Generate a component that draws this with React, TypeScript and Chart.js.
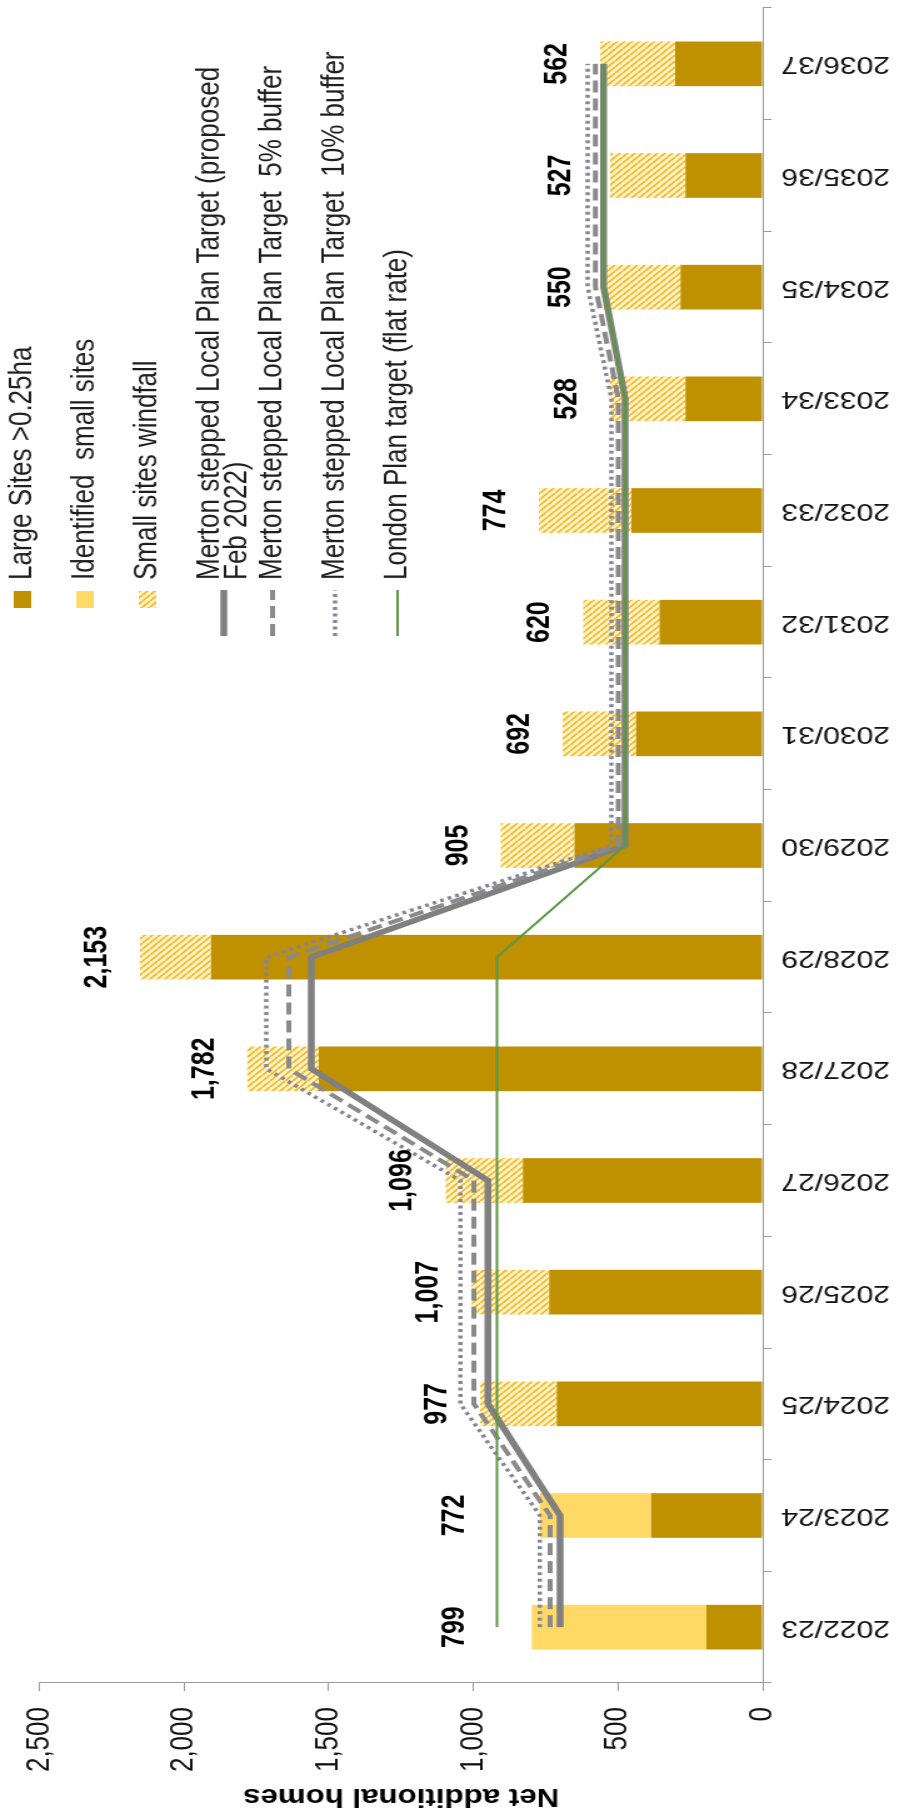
import React, { useEffect, useRef } from 'react';
import { Chart, registerables } from 'chart.js';

Chart.register(...registerables);

// ---------- data ----------
const categories = [
  '2022/23', '2023/24', '2024/25', '2025/26', '2026/27', '2027/28', '2028/29', '2029/30',
  '2030/31', '2031/32', '2032/33', '2033/34', '2034/35', '2035/36', '2036/37',
];
const largeSites = [194, 386, 712, 738, 829, 1534, 1907, 650, 438, 357, 454, 267, 284, 267, 303];
const identifiedSmallSites = [605, 386, 0, 0, 0, 0, 0, 0, 0, 0, 0, 0, 0, 0, 0];
const smallSitesWindfall = [0, 0, 265, 269, 267, 248, 246, 255, 254, 263, 320, 261, 266, 260, 259];
const mertonStepped = [700, 700, 950, 950, 950, 1560, 1560, 475, 475, 475, 475, 475, 550, 550, 550];
const mertonStepped5 = [735, 735, 998, 998, 998, 1638, 1638, 499, 499, 499, 499, 499, 578, 578, 578];
const mertonStepped10 = [770, 770, 1045, 1045, 1045, 1716, 1716, 523, 523, 523, 523, 523, 605, 605, 605];
const londonPlan = [918, 918, 918, 918, 918, 918, 918, 475, 475, 475, 475, 475, 550, 550, 550];
const valueAxisMin = 0;
const valueAxisMax = 2500;
const valueAxisStep = 500;
const axisTitle = 'Net additional homes';
const legendLabels: string[][] = [
  ['Large Sites >0.25ha'],
  ['Identified  small sites'],
  ['Small sites windfall'],
  ['Merton stepped Local Plan Target (proposed', 'Feb 2022)'],
  ['Merton stepped Local Plan Target  5% buffer'],
  ['Merton stepped Local Plan Target  10% buffer'],
  ['London Plan target (flat rate)'],
];

// ---------- look ----------
const OUT_W = 904;
const OUT_H = 1813;
const W = 1813; // canvas width (becomes page height after rotation)
const H = 723; // canvas height (stretched to 904 after rotation)
const FONT = '"Liberation Sans", Arial, Helvetica, sans-serif';
const GOLD = '#BF9000';
const LIGHT = '#FFD966';
const GREY = '#808080';
const GREY_DASH = '#8a8a8a';
const GREY_DOT = '#85859a';
const GREEN = '#5d9645';
const AXIS = '#9a9a9a';

function makeHatch(): CanvasPattern | string {
  const s = 6;
  const c = document.createElement('canvas');
  c.width = s;
  c.height = s;
  const g = c.getContext('2d');
  if (!g) return LIGHT;
  g.fillStyle = '#fff4d2';
  g.fillRect(0, 0, s, s);
  g.strokeStyle = '#f5b81c';
  g.lineWidth = 1.6;
  g.beginPath();
  for (const o of [-s, 0, s]) {
    g.moveTo(o, 0);
    g.lineTo(o + s, s);
  }
  g.stroke();
  const p = g.createPattern(c, 'repeat');
  return p || LIGHT;
}

export default function App() {
  const ref = useRef<HTMLCanvasElement>(null);

  useEffect(() => {
    const canvas = ref.current;
    if (!canvas) return;
    const hatch = makeHatch();

    const totals = categories.map((_, i) => largeSites[i] + identifiedSmallSites[i] + smallSitesWindfall[i]);

    const labelPlugin = {
      id: 'totalLabels',
      afterDatasetsDraw(chart: any) {
        const ctx = chart.ctx as CanvasRenderingContext2D;
        const xs = chart.scales.x;
        const ys = chart.scales.y;
        ctx.save();
        ctx.font = `bold 25px ${FONT}`;
        ctx.fillStyle = '#000';
        ctx.textAlign = 'center';
        ctx.textBaseline = 'middle';
        totals.forEach((t, i) => {
          const anchor = Math.max(t, londonPlan[i]);
          const x = xs.getPixelForValue(i);
          const y = ys.getPixelForValue(anchor) - 34;
          ctx.fillText(t.toLocaleString('en-US'), x, y);
        });
        ctx.restore();
      },
    };

    const legendPlugin = {
      id: 'overlayLegend',
      afterDraw(chart: any) {
        const ctx = chart.ctx as CanvasRenderingContext2D;
        const textX = 1233;
        const firstRow = 18;
        const pitch = 50;
        const lineGap = 22;
        ctx.save();
        ctx.font = `26px ${FONT}`;
        ctx.textAlign = 'left';
        ctx.textBaseline = 'middle';
        legendLabels.forEach((lines, i) => {
          const y0 = firstRow + i * pitch;
          const my = y0 + ((lines.length - 1) * lineGap) / 2;
          if (i < 3) {
            ctx.fillStyle = i === 0 ? GOLD : i === 1 ? LIGHT : (hatch as any);
            ctx.fillRect(textX - 28, my - 7, 17, 14);
          } else {
            ctx.beginPath();
            ctx.lineCap = 'butt';
            if (i === 3) {
              ctx.strokeStyle = GREY;
              ctx.lineWidth = 5.5;
              ctx.setLineDash([]);
            } else if (i === 4) {
              ctx.strokeStyle = GREY_DASH;
              ctx.lineWidth = 4;
              ctx.setLineDash([12, 6]);
            } else if (i === 5) {
              ctx.strokeStyle = GREY_DOT;
              ctx.lineWidth = 3.5;
              ctx.setLineDash([3, 3.5]);
            } else {
              ctx.strokeStyle = GREEN;
              ctx.lineWidth = 2;
              ctx.setLineDash([]);
            }
            ctx.moveTo(textX - 56, my);
            ctx.lineTo(textX - 10, my);
            ctx.stroke();
            ctx.setLineDash([]);
          }
          ctx.fillStyle = '#1f1f1f';
          lines.forEach((ln, j) => ctx.fillText(ln, textX, y0 + j * lineGap));
        });
        ctx.restore();
      },
    };

    const lineBase = { type: 'line', pointRadius: 0, tension: 0, fill: false };

    const chart = new Chart(canvas, {
      type: 'bar',
      data: {
        labels: categories,
        datasets: [
          {
            ...lineBase,
            label: legendLabels[6][0],
            data: londonPlan,
            borderColor: GREEN,
            backgroundColor: GREEN,
            borderWidth: 2,
            stack: 'l4',
            order: 0,
          } as any,
          {
            ...lineBase,
            label: legendLabels[5][0],
            data: mertonStepped10,
            borderColor: GREY_DOT,
            backgroundColor: GREY_DOT,
            borderWidth: 3.5,
            borderDash: [3, 3.5],
            stack: 'l3',
            order: 1,
          } as any,
          {
            ...lineBase,
            label: legendLabels[4][0],
            data: mertonStepped5,
            borderColor: GREY_DASH,
            backgroundColor: GREY_DASH,
            borderWidth: 4,
            borderDash: [12, 6],
            stack: 'l2',
            order: 2,
          } as any,
          {
            ...lineBase,
            label: legendLabels[3].join(' '),
            data: mertonStepped,
            borderColor: GREY,
            backgroundColor: GREY,
            borderWidth: 5.5,
            stack: 'l1',
            order: 3,
          } as any,
          {
            type: 'bar',
            label: legendLabels[0][0],
            data: largeSites,
            backgroundColor: GOLD,
            stack: 'bars',
            order: 10,
            barPercentage: 0.4,
            categoryPercentage: 1,
          } as any,
          {
            type: 'bar',
            label: legendLabels[1][0],
            data: identifiedSmallSites,
            backgroundColor: LIGHT,
            stack: 'bars',
            order: 10,
            barPercentage: 0.4,
            categoryPercentage: 1,
          } as any,
          {
            type: 'bar',
            label: legendLabels[2][0],
            data: smallSitesWindfall,
            backgroundColor: hatch as any,
            stack: 'bars',
            order: 10,
            barPercentage: 0.4,
            categoryPercentage: 1,
          } as any,
        ],
      },
      options: {
        responsive: false,
        animation: false,
        devicePixelRatio: 1,
        layout: { padding: { top: 22, right: 8, left: 0, bottom: 0 } },
        plugins: {
          legend: { display: false },
          tooltip: { enabled: false },
          title: { display: false },
        },
        scales: {
          x: {
            stacked: true,
            grid: {
              display: true,
              drawOnChartArea: false,
              drawTicks: true,
              tickLength: 7,
              color: AXIS,
              offset: true,
            },
            border: { display: true, color: AXIS, width: 1 },
            ticks: {
              autoSkip: false,
              minRotation: 90,
              maxRotation: 90,
              padding: 8,
              color: '#111',
              font: { family: FONT, size: 24 },
            },
            afterFit(scale: any) {
              scale.height = 113;
            },
          },
          y: {
            stacked: true,
            min: valueAxisMin,
            max: valueAxisMax,
            grid: {
              display: true,
              drawOnChartArea: false,
              drawTicks: true,
              tickLength: 8,
              color: AXIS,
            },
            border: { display: true, color: AXIS, width: 1 },
            ticks: {
              stepSize: valueAxisStep,
              padding: 16,
              color: '#111',
              font: { family: FONT, size: 26 },
              callback: (v: any) => Number(v).toLocaleString('en-US'),
            },
            title: {
              display: true,
              text: axisTitle,
              color: '#000',
              font: { family: FONT, size: 25, weight: 'bold' },
              padding: { top: 2, bottom: 0 },
            },
            afterFit(scale: any) {
              scale.width = 130;
            },
          },
        },
      } as any,
      plugins: [labelPlugin, legendPlugin],
    });

    return () => chart.destroy();
  }, []);

  return (
    <div
      style={{
        position: 'absolute',
        left: 0,
        top: 0,
        width: OUT_W,
        height: OUT_H,
        overflow: 'hidden',
        background: '#ffffff',
      }}
    >
      <div
        style={{
          position: 'absolute',
          left: 0,
          top: 0,
          width: W,
          height: H,
          transformOrigin: '0 0',
          transform: `translateY(${OUT_H}px) rotate(-90deg) scaleY(${OUT_W / H})`,
        }}
      >
        <canvas ref={ref} width={W} height={H} style={{ display: 'block', width: W, height: H }} />
      </div>
    </div>
  );
}
